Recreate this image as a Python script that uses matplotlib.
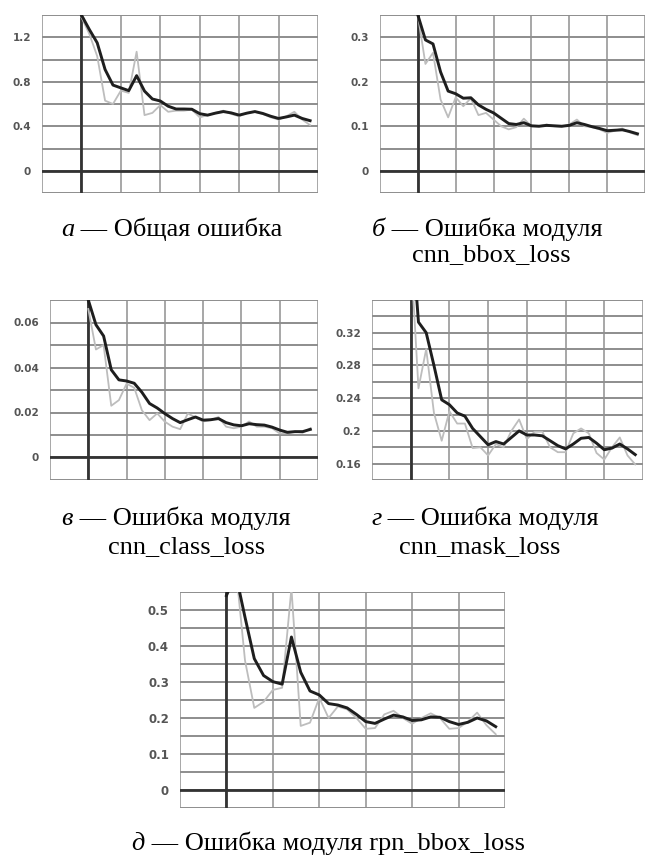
import numpy as np
import matplotlib
matplotlib.use("Agg")
import matplotlib.pyplot as plt
from matplotlib.transforms import IdentityTransform

# training steps (same for every chart)
steps = np.arange(30)

# a - total loss
total_smooth = [1.40, 1.27, 1.15, 0.91, 0.77, 0.745, 0.72, 0.855, 0.716, 0.645,
                0.627, 0.58, 0.555, 0.555, 0.553, 0.513, 0.50, 0.518, 0.532, 0.52,
                0.50, 0.518, 0.532, 0.515, 0.49, 0.47, 0.484, 0.50, 0.47, 0.45]
total_raw = [1.38, 1.23, 1.03, 0.63, 0.60, 0.72, 0.70, 1.07, 0.50, 0.52,
             0.59, 0.53, 0.54, 0.54, 0.55, 0.48, 0.50, 0.52, 0.54, 0.51,
             0.49, 0.52, 0.53, 0.51, 0.48, 0.46, 0.49, 0.53, 0.46, 0.41]
total_ticks = [0, 0.4, 0.8, 1.2]
total_labels = ["0", "0.4", "0.8", "1.2"]

# b - cnn_bbox_loss
bbox_smooth = [0.35, 0.294, 0.285, 0.222, 0.179, 0.173, 0.163, 0.164, 0.148, 0.138,
               0.130, 0.118, 0.106, 0.104, 0.108, 0.101, 0.100, 0.102, 0.101, 0.100,
               0.102, 0.108, 0.104, 0.099, 0.095, 0.090, 0.091, 0.092, 0.088, 0.083]
bbox_raw = [0.35, 0.24, 0.265, 0.16, 0.12, 0.165, 0.145, 0.163, 0.125, 0.13,
            0.115, 0.100, 0.093, 0.098, 0.117, 0.100, 0.100, 0.104, 0.100, 0.099,
            0.104, 0.115, 0.100, 0.098, 0.093, 0.085, 0.090, 0.095, 0.086, 0.080]
bbox_ticks = [0, 0.1, 0.2, 0.3]
bbox_labels = ["0", "0.1", "0.2", "0.3"]

# в - cnn_class_loss
class_smooth = [0.070, 0.059, 0.054, 0.039, 0.0345, 0.034, 0.033, 0.029, 0.024, 0.022,
                0.0195, 0.0173, 0.0155, 0.0168, 0.018, 0.0166, 0.0168, 0.0173, 0.0155, 0.0145,
                0.0141, 0.015, 0.0146, 0.0144, 0.0135, 0.0122, 0.0112, 0.0115, 0.0115, 0.0125]
class_raw = [0.066, 0.048, 0.050, 0.023, 0.0255, 0.0328, 0.031, 0.021, 0.0166, 0.0196,
             0.0159, 0.0137, 0.0126, 0.0196, 0.0178, 0.016, 0.0166, 0.018, 0.0137, 0.013,
             0.0137, 0.016, 0.0137, 0.0137, 0.013, 0.0107, 0.0107, 0.0115, 0.011, 0.013]
class_ticks = [0, 0.02, 0.04, 0.06]
class_labels = ["0", "0.02", "0.04", "0.06"]

# г - cnn_mask_loss
mask_smooth = [0.46, 0.333, 0.32, 0.28, 0.238, 0.232, 0.222, 0.218, 0.203, 0.193,
               0.183, 0.187, 0.184, 0.192, 0.200, 0.195, 0.195, 0.194, 0.188, 0.182,
               0.178, 0.184, 0.191, 0.192, 0.185, 0.177, 0.179, 0.184, 0.178, 0.171]
mask_raw = [0.42, 0.252, 0.30, 0.222, 0.188, 0.224, 0.209, 0.209, 0.179, 0.18,
            0.17, 0.184, 0.18, 0.20, 0.214, 0.19, 0.199, 0.199, 0.18, 0.174,
            0.174, 0.197, 0.203, 0.197, 0.173, 0.165, 0.18, 0.192, 0.17, 0.159]
mask_ticks = [0.16, 0.2, 0.24, 0.28, 0.32]
mask_labels = ["0.16", "0.2", "0.24", "0.28", "0.32"]

# д - rpn_bbox_loss
rpn_smooth = [0.54, 0.60, 0.48, 0.365, 0.318, 0.301, 0.294, 0.425, 0.327, 0.275,
              0.264, 0.24, 0.236, 0.228, 0.21, 0.19, 0.185, 0.197, 0.208, 0.203,
              0.193, 0.195, 0.203, 0.202, 0.19, 0.182, 0.188, 0.2, 0.192, 0.176]
rpn_raw = [0.60, 0.62, 0.36, 0.228, 0.245, 0.278, 0.284, 0.56, 0.178, 0.187,
           0.256, 0.20, 0.232, 0.224, 0.2, 0.17, 0.172, 0.21, 0.22, 0.2,
           0.184, 0.2, 0.213, 0.2, 0.17, 0.172, 0.19, 0.215, 0.18, 0.155]
rpn_ticks = [0, 0.1, 0.2, 0.3, 0.4, 0.5]
rpn_labels = ["0", "0.1", "0.2", "0.3", "0.4", "0.5"]

W, H = 649, 857
fig = plt.figure(figsize=(W / 100, H / 100), dpi=100)
serif = "Liberation Serif"
cap_size = 19


def add_panel(box, smooth, raw, ylim, ystep, ticks, labels, fs=7.5):
    left, top, right, bottom = box
    ax = fig.add_axes([left / W, 1 - bottom / H, (right - left) / W, (bottom - top) / H])
    ax.set_xlim(-5, 30)
    ax.set_ylim(*ylim)
    for s in ax.spines.values():
        s.set_visible(False)
    grid_y = np.arange(ylim[0], ylim[1] + ystep / 2, ystep)
    for gy in grid_y:
        ax.axhline(gy, color="#7a7a7a", lw=1.2, zorder=1)
    for gx in range(-5, 31, 5):
        ax.axvline(gx, color="#8f8f8f", lw=1.1, zorder=1)
    ax.axvline(0, color="#333333", lw=2.0, zorder=2)
    if ylim[0] < 0:
        ax.axhline(0, color="#333333", lw=2.0, zorder=2)
    ax.set_xticks([])
    ax.set_yticks(ticks)
    ax.set_yticklabels(labels, fontsize=fs, color="#555555", fontweight="bold")
    ax.tick_params(axis="y", length=0, pad=8)
    ax.plot(steps, raw, color="#bdbdbd", lw=1.3, zorder=3)
    ax.plot(steps, smooth, color="#1e1e1e", lw=2.1, zorder=4)
    return ax


add_panel((42, 15, 318, 193), total_smooth, total_raw, (-0.2, 1.4), 0.2, total_ticks, total_labels)
add_panel((380, 15, 645, 193), bbox_smooth, bbox_raw, (-0.05, 0.35), 0.05, bbox_ticks, bbox_labels)
add_panel((50, 300, 318, 480), class_smooth, class_raw, (-0.01, 0.07), 0.01, class_ticks, class_labels)
add_panel((372, 300, 643, 480), mask_smooth, mask_raw, (0.14, 0.36), 0.02, mask_ticks, mask_labels)
add_panel((180, 592, 505, 808), rpn_smooth, rpn_raw, (-0.05, 0.55), 0.05, rpn_ticks, rpn_labels, fs=8.5)

renderer = fig.canvas.get_renderer()


def caption(cx, base, letter, rest):
    # italic letter + upright text, centred as a whole on cx (pixels)
    t1 = fig.text(0, 0, letter, transform=IdentityTransform(), family=serif,
                  style="italic", fontsize=cap_size, va="baseline", ha="left")
    t2 = fig.text(0, 0, " \u2014 " + rest, transform=IdentityTransform(), family=serif,
                  fontsize=cap_size, va="baseline", ha="left")
    w1 = t1.get_window_extent(renderer).width
    w2 = t2.get_window_extent(renderer).width
    x0 = cx - (w1 + w2) / 2
    t1.set_position((x0, H - base))
    t2.set_position((x0 + w1, H - base))


def line2(cx, base, txt):
    fig.text(cx, H - base, txt, transform=IdentityTransform(), family=serif,
             fontsize=cap_size, va="baseline", ha="center")


caption(172, 236, "а", "Общая ошибка")
caption(487, 236, "б", "Ошибка модуля")
line2(491, 261, "cnn_bbox_loss")
caption(176, 525, "в", "Ошибка модуля")
line2(187, 553, "cnn_class_loss")
caption(485, 525, "г", "Ошибка модуля")
line2(480, 553, "cnn_mask_loss")
caption(328, 850, "д", "Ошибка модуля rpn_bbox_loss")

fig.savefig("out.png", dpi=100, facecolor="white")
